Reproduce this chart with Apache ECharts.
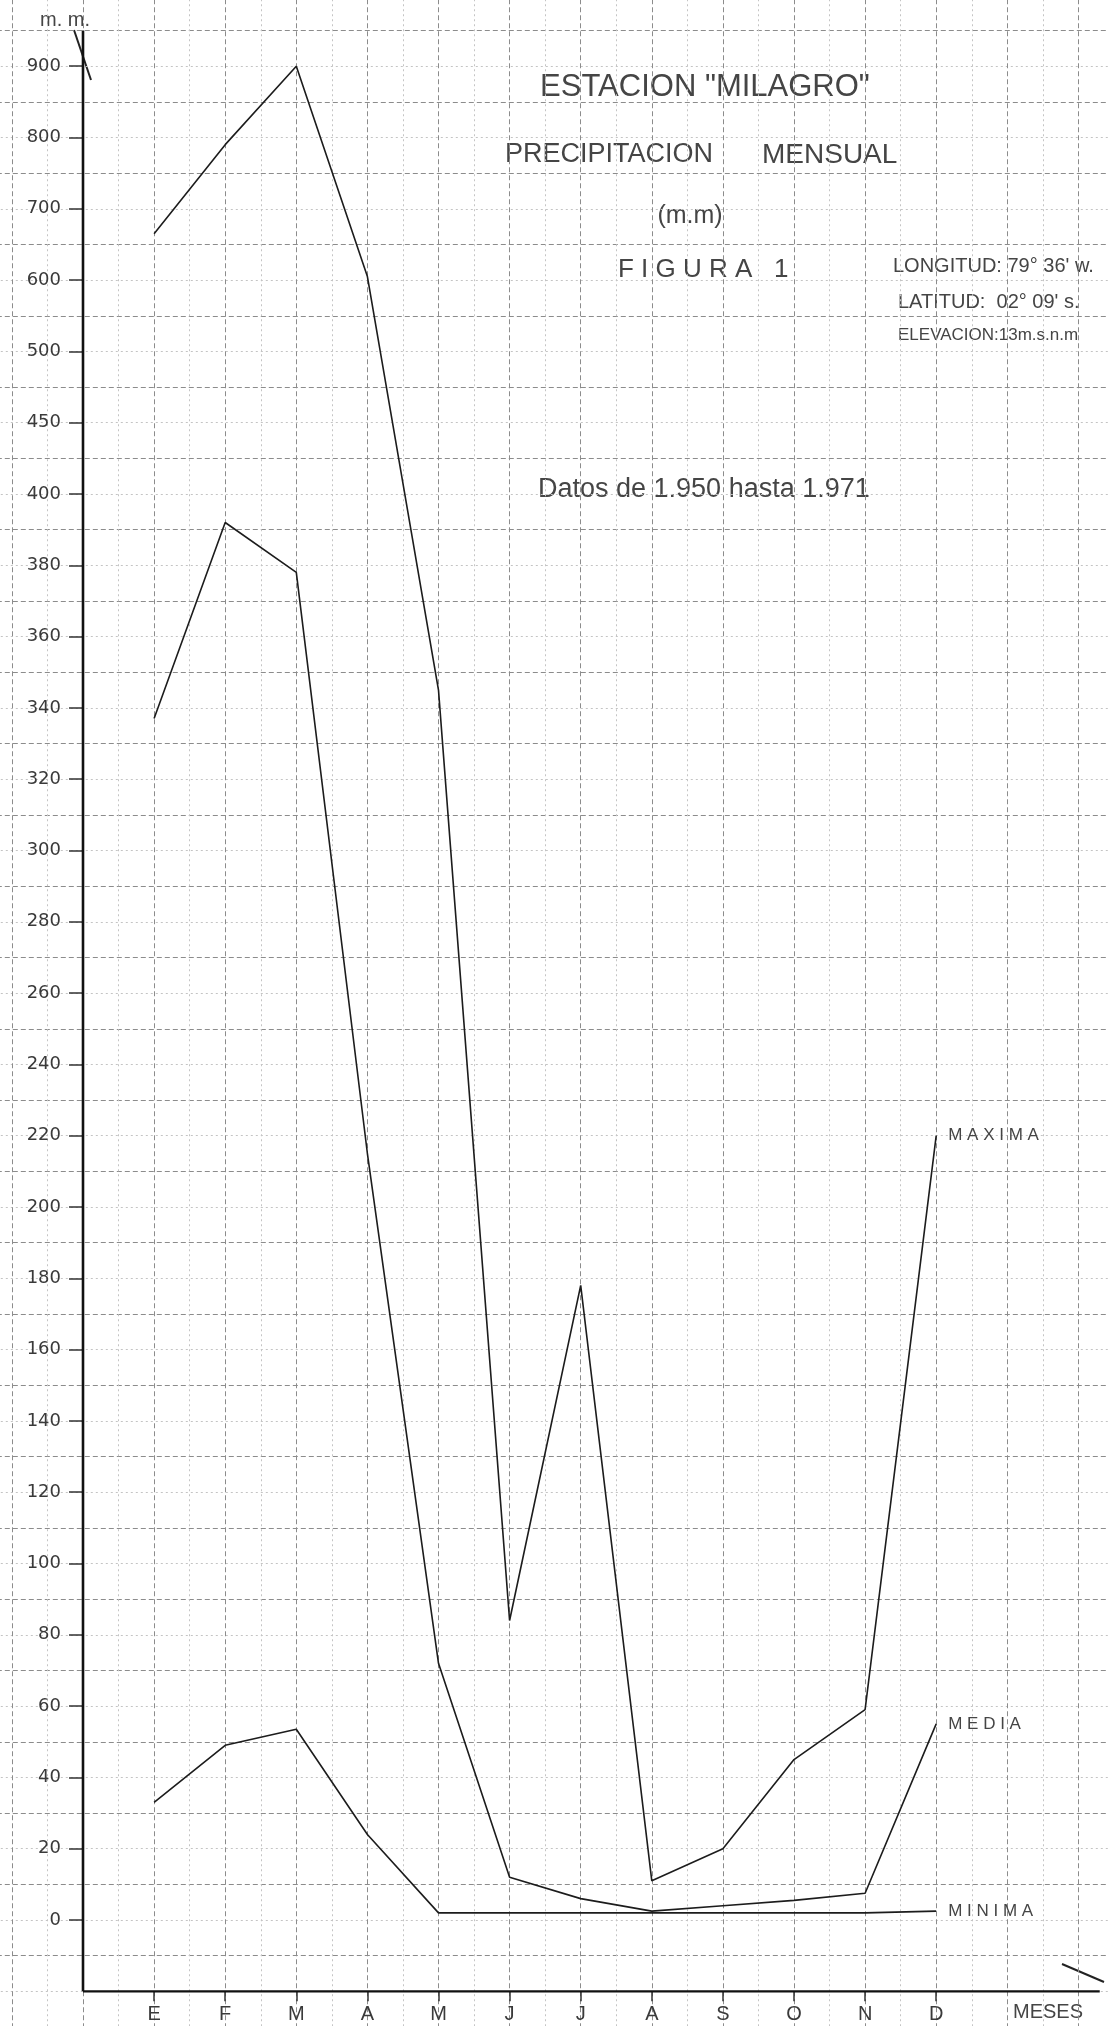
<!DOCTYPE html>
<html><head><meta charset="utf-8">
<script src="https://cdn.jsdelivr.net/npm/echarts@6/dist/echarts.min.js"></script>
<style>html,body{margin:0;padding:0;background:#fff}#c{width:1108px;height:2026px}</style>
</head><body><div id="c"></div>
<script>
// ---- data ----
const months = ['E','F','M','A','M','J','J','A','S','O','N','D'];
const yTickLabels = [0,20,40,60,80,100,120,140,160,180,200,220,240,260,280,300,320,340,360,380,400,450,500,600,700,800,900];
const maxima = [665,790,900,605,345,84,178,11,20,45,59,220];
const media  = [337,392,378,215,72,12,6,2.5,4,5.5,7.5,55];
const minima = [33,49,53.5,24,2,2,2,2,2,2,2,2.5];

// ---- layout ----
const W = 1108, H = 2026;
const AXIS_X = 83, STEP_X = 71.1, ZERO_Y = 1920, STEP_Y = 71.3;

// value -> position on the (non-linear) hand-drawn scale
function toIdx(v){
  for (let k = 0; k < yTickLabels.length - 1; k++){
    const a = yTickLabels[k], b = yTickLabels[k+1];
    if (v <= b) return k + (v - a) / (b - a);
  }
  return yTickLabels.length - 1;
}

const paperDark = {color:'#8c8c8c', width:1, type:[5,3]};
const paperLight = {color:'#c4c4c4', width:1, type:[2,3]};
const ink = '#1c1c1c';
const txt = '#454545';

function spaced(s){ return s.split('').join(' '); }

function lineSeries(name, values){
  return {
    name, type:'line', xAxisIndex:1, yAxisIndex:1,
    data: values.map((v,i)=>[i+1, toIdx(v)]),
    symbol:'none', clip:false, silent:true,
    lineStyle:{color:ink, width:1.6},
    endLabel:{show:true, formatter: spaced(name), distance:12, fontSize:17,
      fontFamily:'Liberation Sans', color:txt}
  };
}

// axis lines on the paper grid (x index, y index + 0.5)
const yAxisLine = [[0,-0.5],[0,27]];
const xAxisLine = [[0,-0.5],[14.3,-0.5]];

function text(str, x, y, size, align, family){
  return {type:'text', silent:true, style:{text:str, x, y, fill:txt,
    font: size + 'px ' + (family || '"Liberation Sans", Arial, sans-serif'),
    align: align || 'left', textAlign: align || 'left',
    verticalAlign:'middle', textVerticalAlign:'middle'}};
}

const chart = echarts.init(document.getElementById('c'), null, {renderer:'canvas'});
chart.setOption({
  animation:false,
  backgroundColor:'#ffffff',
  grid:[
    {left: AXIS_X - 2*STEP_X, right: W - (AXIS_X + 15*STEP_X),
     top: ZERO_Y - 27.5*STEP_Y, bottom: H - (ZERO_Y + 2.5*STEP_Y), outerBoundsMode:'none'},
    {left: AXIS_X + STEP_X, right: W - (AXIS_X + 12*STEP_X),
     top: ZERO_Y - 26*STEP_Y, bottom: H - ZERO_Y, outerBoundsMode:'none'}
  ],
  xAxis:[
    {gridIndex:0, type:'value', min:-2, max:15, interval:1,
     axisLine:{show:false}, axisTick:{show:false}, axisLabel:{show:false},
     splitLine:{show:true, lineStyle:paperDark},
     minorTick:{show:false, splitNumber:2}, minorSplitLine:{show:true, lineStyle:paperLight}},
    {gridIndex:1, type:'value', min:1, max:12, interval:1, position:'bottom', offset:STEP_Y,
     axisLine:{show:false, onZero:false},
     axisTick:{show:true, length:10, lineStyle:{color:'#333', width:1.5}},
     axisLabel:{formatter: v => months[Math.round(v)-1] || '', margin:13, fontSize:20,
       fontFamily:'Liberation Sans', color:'#3a3a3a'},
     splitLine:{show:false}}
  ],
  yAxis:[
    {gridIndex:0, type:'value', min:-2, max:28, interval:1,
     axisLine:{show:false}, axisTick:{show:false}, axisLabel:{show:false},
     splitLine:{show:true, lineStyle:paperDark},
     minorTick:{show:false, splitNumber:2}, minorSplitLine:{show:true, lineStyle:paperLight}},
    {gridIndex:1, type:'value', min:0, max:26, interval:1, position:'left', offset:STEP_X,
     axisLine:{show:false, onZero:false},
     axisTick:{show:true, length:14, lineStyle:{color:'#333', width:1.5}},
     axisLabel:{formatter: v => { const t = yTickLabels[Math.round(v)]; return t === undefined ? '' : String(t); },
       margin:22, fontSize:18, fontFamily:'DejaVu Sans', color:'#3a3a3a'},
     splitLine:{show:false}}
  ],
  series:[
    {type:'line', xAxisIndex:0, yAxisIndex:0, data:yAxisLine, symbol:'none', silent:true, clip:false,
     lineStyle:{color:'#111', width:2.6}},
    {type:'line', xAxisIndex:0, yAxisIndex:0, data:xAxisLine, symbol:'none', silent:true, clip:false,
     lineStyle:{color:'#111', width:2.2}},
    lineSeries('MAXIMA', maxima),
    lineSeries('MEDIA', media),
    lineSeries('MINIMA', minima)
  ],
  graphic:[
    text('ESTACION "MILAGRO"', 705, 87, 31, 'center'),
    text('PRECIPITACION', 505, 155, 27),
    text('MENSUAL', 762, 155, 28),
    text('(m.m)', 690, 216, 25, 'center'),
    text('F I G U R A   1', 618, 270, 26),
    text("LONGITUD: 79° 36' w.", 893, 266, 20),
    text("LATITUD:  02° 09' s.", 898, 302, 20),
    text('ELEVACION:13m.s.n.m', 898, 335, 17),
    text('Datos de 1.950 hasta 1.971', 538, 490, 27),
    text('m. m.', 40, 20, 20),
    text('MESES', 1048, 2012, 20, 'center'),
    {type:'line', silent:true, shape:{x1:74, y1:30, x2:91, y2:80}, style:{stroke:'#222', lineWidth:2}},
    {type:'line', silent:true, shape:{x1:1062, y1:1964, x2:1104, y2:1982}, style:{stroke:'#222', lineWidth:2}}
  ]
});
</script>
</body></html>
